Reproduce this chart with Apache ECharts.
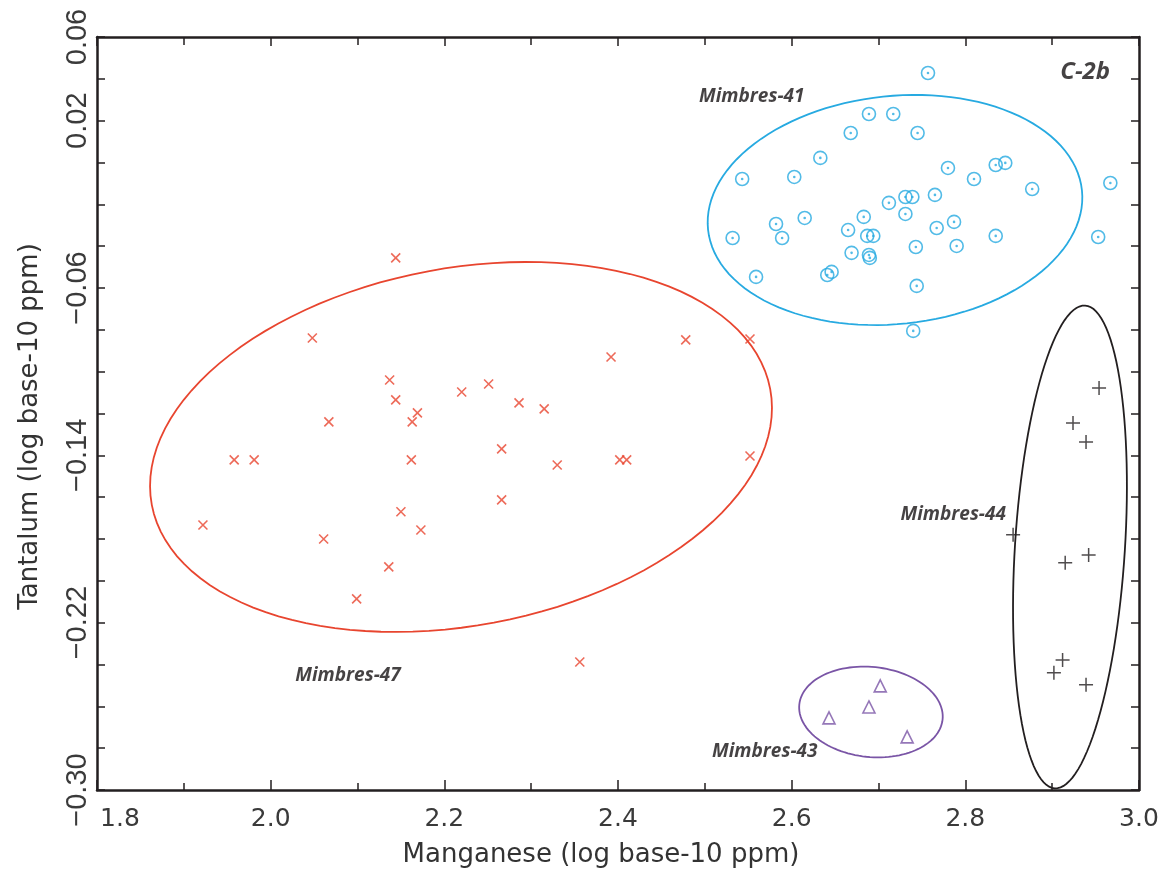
<!DOCTYPE html>
<html>
<head>
<meta charset="utf-8">
<title>C-2b Manganese vs Tantalum</title>
<script src="https://cdn.jsdelivr.net/npm/echarts@6/dist/echarts.min.js"></script>
<style>
  html, body { margin: 0; padding: 0; background: #ffffff; }
  #chart { width: 1167px; height: 876px; }
</style>
</head>
<body>
<div id="chart"></div>
<script>
// Group data: [manganese (log10 ppm), tantalum (log10 ppm)]
const mimbres47 = [
  [2.144, -0.0456], [2.048, -0.0839], [2.552, -0.0844], [2.478, -0.0848],
  [2.392, -0.0930], [2.137, -0.1040], [2.251, -0.1059], [2.220, -0.1097],
  [2.144, -0.1135], [2.286, -0.1149], [2.315, -0.1178], [2.169, -0.1197],
  [2.067, -0.1240], [2.163, -0.1240], [2.266, -0.1369], [1.958, -0.1422],
  [1.981, -0.1422], [2.162, -0.1422], [2.552, -0.1403], [2.402, -0.1422],
  [2.410, -0.1422], [2.330, -0.1446], [2.266, -0.1613], [1.922, -0.1733],
  [2.150, -0.1670], [2.173, -0.1757], [2.061, -0.1800], [2.136, -0.1933],
  [2.099, -0.2086], [2.356, -0.2388]
];
const mimbres41 = [
  [2.757, 0.0428], [2.745, 0.0141], [2.689, 0.0232], [2.717, 0.0232],
  [2.668, 0.0141], [2.633, 0.0022], [2.543, -0.0079], [2.603, -0.0069],
  [2.532, -0.0361], [2.582, -0.0294], [2.589, -0.0361], [2.615, -0.0265],
  [2.559, -0.0547], [2.641, -0.0538], [2.646, -0.0523], [2.669, -0.0432],
  [2.665, -0.0323], [2.683, -0.0260], [2.687, -0.0351], [2.694, -0.0351],
  [2.689, -0.0442], [2.690, -0.0456], [2.712, -0.0193], [2.731, -0.0165],
  [2.739, -0.0165], [2.731, -0.0246], [2.743, -0.0404], [2.744, -0.0590],
  [2.740, -0.0805], [2.767, -0.0313], [2.765, -0.0155], [2.780, -0.0026],
  [2.810, -0.0079], [2.787, -0.0284], [2.790, -0.0399], [2.835, -0.0012],
  [2.846, -0.0002], [2.835, -0.0351], [2.877, -0.0127], [2.953, -0.0356],
  [2.967, -0.0098]
];
const mimbres43 = [
  [2.643, -0.2655], [2.689, -0.2603], [2.702, -0.2502], [2.733, -0.2746]
];
const mimbres44 = [
  [2.954, -0.1078], [2.924, -0.1245], [2.939, -0.1336], [2.855, -0.1780],
  [2.915, -0.1914], [2.942, -0.1876], [2.912, -0.2378], [2.902, -0.2440],
  [2.939, -0.2497]
];

// Group ellipses: centre and the two semi-axis vectors, all in data units
const ellipseNames = ['Mimbres-47', 'Mimbres-41', 'Mimbres-44', 'Mimbres-43'];
const ellipseCentres = [[2.2192, -0.1360], [2.7190, -0.0227], [2.9205, -0.1838], [2.6913, -0.2627]];
const ellipseAxisU = [[0.3561, 0.02767], [0.2153, 0.00939], [0.0175, 0.1154], [0.0825, -0.00359]];
const ellipseAxisV = [[-0.0379, 0.0840], [-0.0137, 0.0542], [-0.0632, 0.00165], [0.0054, 0.0214]];

// Text annotations placed in data coordinates
const groupLabels = ['Mimbres-41', 'Mimbres-47', 'Mimbres-43', 'Mimbres-44'];
const groupLabelPos = [[2.554, 0.0313], [2.089, -0.2454], [2.569, -0.2818], [2.786, -0.1685]];
const panelLabel = 'C-2b';
const panelLabelPos = [2.938, 0.0433];

// Axis tick labels
const yTickLabels = [0.06, 0.02, -0.06, -0.14, -0.22, -0.30];

const RED = '#e8452f';
const CYAN = '#27aae1';
const PURPLE = '#7a55a6';
const BLACK = '#231f20';
const ellipseColors = [RED, CYAN, BLACK, PURPLE];

const fmtY = v => {
  const r = Math.round(v * 100);
  if (!yTickLabels.some(t => Math.round(t * 100) === r)) return '';
  const s = Math.abs(r / 100).toFixed(2);
  return (r < 0 ? '\u2212' : '') + s;
};

const chart = echarts.init(document.getElementById('chart'), null, { renderer: 'canvas' });

const ellipseSeries = ellipseNames.map((name, i) => ({
  type: 'custom',
  name: name + ' ellipse',
  coordinateSystem: 'cartesian2d',
  silent: true,
  clip: false,
  z: 1,
  data: [ellipseCentres[i]],
  renderItem: (params, api) => {
    const c = ellipseCentres[i], u = ellipseAxisU[i], v = ellipseAxisV[i];
    const pts = [];
    const N = 120;
    for (let k = 0; k < N; k++) {
      const t = 2 * Math.PI * k / N;
      const ct = Math.cos(t), st = Math.sin(t);
      pts.push(api.coord([c[0] + u[0] * ct + v[0] * st, c[1] + u[1] * ct + v[1] * st]));
    }
    return {
      type: 'polygon',
      shape: { points: pts },
      style: { fill: 'none', stroke: ellipseColors[i], lineWidth: 1.8 }
    };
  }
}));

const annotationFont = {
  fontFamily: '"Open Sans", "Liberation Sans", sans-serif',
  fontWeight: 'bold',
  fontStyle: 'italic',
  color: '#161314',
  textBorderWidth: 0
};

const titleFont = { fontFamily: '"DejaVu Sans", sans-serif', fontSize: 26, color: '#333333' };
const frameLine = { onZero: false, lineStyle: { color: BLACK, width: 2.5 } };

chart.setOption({
  animation: false,
  backgroundColor: '#ffffff',
  grid: { left: 97, right: 28, top: 37, bottom: 86, containLabel: false },
  xAxis: [{
    type: 'value',
    min: 1.8, max: 3.0, interval: 0.2,
    position: 'bottom',
    name: 'Manganese (log base-10 ppm)',
    nameLocation: 'middle',
    nameGap: 52,
    nameTextStyle: { ...titleFont, padding: [0, 34, 0, 0] },
    axisLine: frameLine,
    axisTick: { inside: true, length: 10, lineStyle: { color: BLACK, width: 1.5 } },
    minorTick: { show: true, splitNumber: 2, length: 7, lineStyle: { color: BLACK, width: 1.5 } },
    splitLine: { show: false },
    axisLabel: {
      margin: 17,
      fontFamily: '"DejaVu Sans", sans-serif',
      fontSize: 25,
      color: '#3a3a3a',
      formatter: v => {
        const s = v.toFixed(1);
        return Math.abs(v - 1.8) < 1e-6 ? '{first|' + s + '}' : s;
      },
      rich: { first: { padding: [0, 0, 0, 46], fontSize: 25, fontFamily: '"DejaVu Sans", sans-serif', color: '#3a3a3a' } }
    }
  }, {
    type: 'value',
    min: 1.8, max: 3.0, interval: 0.2,
    position: 'top',
    axisLine: frameLine,
    axisTick: { inside: true, length: 9, lineStyle: { color: BLACK, width: 1.5 } },
    minorTick: { show: true, splitNumber: 2, length: 8, lineStyle: { color: BLACK, width: 1.5 } },
    splitLine: { show: false },
    axisLabel: { show: false }
  }],
  yAxis: [{
    type: 'value',
    min: -0.30, max: 0.06, interval: 0.02,
    position: 'left',
    name: 'Tantalum (log base-10 ppm)',
    nameLocation: 'middle',
    nameGap: 54,
    nameTextStyle: { ...titleFont, padding: [0, 26, 0, 0] },
    axisLine: frameLine,
    axisTick: { inside: true, length: 8, lineStyle: { color: BLACK, width: 1.5 } },
    splitLine: { show: false },
    axisLabel: {
      rotate: 90,
      margin: 5,
      fontFamily: '"Liberation Sans", Arial, sans-serif',
      fontSize: 29,
      color: '#3a3a3a',
      formatter: fmtY
    }
  }, {
    type: 'value',
    min: -0.30, max: 0.06, interval: 0.02,
    position: 'right',
    axisLine: frameLine,
    axisTick: { inside: true, length: 8, lineStyle: { color: BLACK, width: 1.5 } },
    splitLine: { show: false },
    axisLabel: { show: false }
  }],
  series: [
    ...ellipseSeries,
    {
      type: 'scatter', name: 'Mimbres-47', data: mimbres47,
      symbol: 'path://M0,0L10,10M10,0L0,10', symbolSize: 9,
      itemStyle: { color: 'none', borderColor: RED, borderWidth: 1.6 }, z: 3
    },
    {
      type: 'scatter', name: 'Mimbres-41', data: mimbres41,
      symbol: 'circle', symbolSize: 13,
      itemStyle: { color: 'none', borderColor: CYAN, borderWidth: 1.6 }, z: 3
    },
    {
      type: 'scatter', name: 'Mimbres-41 centre', data: mimbres41,
      symbol: 'circle', symbolSize: 2.6,
      itemStyle: { color: CYAN }, z: 3
    },
    {
      type: 'scatter', name: 'Mimbres-43', data: mimbres43,
      symbol: 'triangle', symbolSize: 12,
      itemStyle: { color: 'none', borderColor: PURPLE, borderWidth: 1.6 }, z: 3
    },
    {
      type: 'scatter', name: 'Mimbres-44', data: mimbres44,
      symbol: 'path://M5,0L5,10M0,5L10,5', symbolSize: 14,
      itemStyle: { color: 'none', borderColor: BLACK, borderWidth: 1.5 }, z: 3
    },
    {
      type: 'scatter', name: 'labels', silent: true, symbolSize: 0, z: 4,
      data: groupLabels.map((t, i) => ({ name: t, value: groupLabelPos[i] })),
      label: { show: true, position: 'inside', formatter: p => p.name, fontSize: 19, ...annotationFont }
    },
    {
      type: 'scatter', name: 'panel', silent: true, symbolSize: 0, z: 4,
      data: [{ name: panelLabel, value: panelLabelPos }],
      label: { show: true, position: 'inside', formatter: p => p.name, fontSize: 24, ...annotationFont }
    }
  ]
});
</script>
</body>
</html>
